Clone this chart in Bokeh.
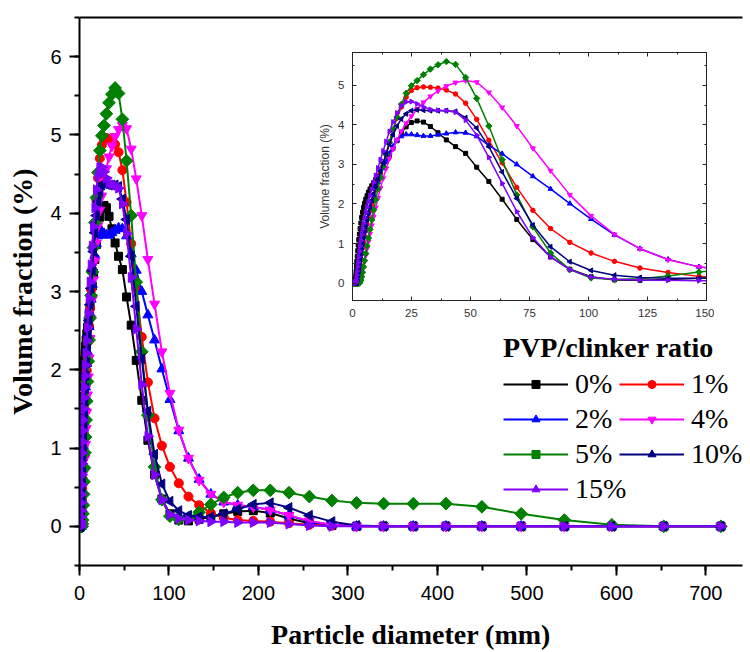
import numpy as np
from bokeh.plotting import figure
from bokeh.models import (Range1d, LinearAxis, SingleIntervalTicker, FixedTicker, Legend,
                          LegendItem, CustomJSTickFormatter)
from bokeh.layouts import column
from bokeh.embed import file_html
from bokeh.resources import INLINE

# particle diameter channels
diam = [0.375, 0.412, 0.452, 0.496, 0.545, 0.598, 0.657, 0.721, 0.791, 0.868,
        0.953, 1.047, 1.149, 1.261, 1.385, 1.520, 1.668, 1.832, 2.011, 2.207,
        2.423, 2.660, 2.920, 3.205, 3.519, 3.863, 4.240, 4.655, 5.110, 5.610,
        6.158, 6.760, 7.421, 8.147, 8.943, 9.818, 10.78, 11.83, 12.99, 14.26,
        15.65, 17.18, 18.86, 20.70, 22.73, 24.95, 27.38, 30.07, 33.00, 36.24,
        39.77, 43.66, 47.93, 52.62, 57.77, 63.41, 69.61, 76.42, 83.90, 92.09,
        101.1, 111.0, 121.8, 133.7, 146.8, 161.2, 176.8, 194.2, 213.2, 234.1,
        256.9, 282.1, 309.6, 339.9, 373.1, 409.6, 449.7, 493.6, 541.9, 594.9,
        653.0, 716.8]

pvp_0 = [0, 0, 0, 0, 0, 0, 0, 0, 0, 0,
         0, 0, 0.03, 0.10, 0.19, 0.30, 0.42, 0.55, 0.68, 0.82,
         0.96, 1.10, 1.24, 1.38, 1.52, 1.66, 1.79, 1.91, 2.02, 2.12,
         2.21, 2.30, 2.38, 2.46, 2.54, 2.62, 2.71, 2.81, 2.93, 3.07,
         3.23, 3.41, 3.60, 3.79, 3.95, 4.06, 4.10, 4.07, 3.96, 3.80,
         3.62, 3.45, 3.28, 2.93, 2.57, 2.12, 1.61, 1.10, 0.66, 0.35,
         0.16, 0.08, 0.07, 0.09, 0.12, 0.16, 0.19, 0.20, 0.17, 0.10,
         0.04, 0.01, 0, 0, 0, 0, 0, 0, 0, 0,
         0, 0]

pvp_1 = [0, 0, 0, 0, 0, 0, 0, 0, 0, 0,
         0, 0, 0, 0, 0, 0, 0, 0, 0.03, 0.08,
         0.15, 0.25, 0.36, 0.48, 0.61, 0.75, 0.89, 1.03, 1.18, 1.33,
         1.49, 1.65, 1.82, 1.99, 2.17, 2.36, 2.56, 2.78, 3.02, 3.28,
         3.57, 3.87, 4.17, 4.45, 4.70, 4.87, 4.94, 4.96, 4.95, 4.93,
         4.88, 4.78, 4.55, 4.14, 3.61, 3.04, 2.42, 1.84, 1.38, 1.03,
         0.76, 0.55, 0.38, 0.27, 0.17, 0.11, 0.08, 0.07, 0.06, 0.04,
         0.02, 0.01, 0, 0, 0, 0, 0, 0, 0, 0,
         0, 0]

pvp_2 = [0, 0, 0, 0, 0, 0, 0, 0, 0, 0,
         0, 0, 0, 0, 0, 0, 0, 0.03, 0.08, 0.15,
         0.24, 0.35, 0.47, 0.60, 0.74, 0.88, 1.03, 1.18, 1.33, 1.48,
         1.63, 1.78, 1.93, 2.08, 2.23, 2.39, 2.55, 2.72, 2.90, 3.09,
         3.28, 3.46, 3.61, 3.71, 3.76, 3.76, 3.74, 3.72, 3.72, 3.75,
         3.78, 3.81, 3.80, 3.71, 3.48, 3.27, 3.00, 2.70, 2.38, 2.01,
         1.62, 1.22, 0.87, 0.60, 0.41, 0.31, 0.27, 0.25, 0.21, 0.14,
         0.06, 0.02, 0, 0, 0, 0, 0, 0, 0, 0,
         0, 0]

pvp_4 = [0, 0, 0, 0, 0, 0, 0, 0, 0, 0,
         0, 0, 0, 0, 0, 0, 0, 0, 0, 0,
         0, 0, 0, 0.02, 0.07, 0.15, 0.26, 0.39, 0.54, 0.70,
         0.87, 1.05, 1.25, 1.46, 1.68, 1.91, 2.15, 2.40, 2.65, 2.90,
         3.15, 3.39, 3.62, 3.84, 4.04, 4.22, 4.40, 4.57, 4.72, 4.86,
         4.98, 5.07, 5.12, 5.08, 4.82, 4.44, 3.97, 3.41, 2.84, 2.23,
         1.70, 1.23, 0.87, 0.59, 0.41, 0.31, 0.27, 0.25, 0.21, 0.14,
         0.07, 0.02, 0, 0, 0, 0, 0, 0, 0, 0,
         0, 0]

pvp_5 = [0, 0, 0, 0, 0, 0, 0, 0, 0, 0,
         0, 0, 0, 0, 0, 0, 0, 0, 0, 0,
         0, 0, 0, 0.03, 0.08, 0.16, 0.27, 0.41, 0.57, 0.75,
         0.94, 1.14, 1.36, 1.60, 1.85, 2.11, 2.38, 2.66, 2.95, 3.25,
         3.56, 3.88, 4.20, 4.52, 4.80, 4.99, 5.12, 5.27, 5.41, 5.52,
         5.60, 5.53, 5.20, 4.67, 3.97, 3.12, 2.23, 1.42, 0.76, 0.34,
         0.13, 0.09, 0.11, 0.18, 0.28, 0.37, 0.43, 0.46, 0.46, 0.43,
         0.38, 0.33, 0.30, 0.29, 0.29, 0.29, 0.25, 0.16, 0.08, 0.02,
         0, 0]

pvp_10 = [0, 0, 0, 0, 0, 0, 0, 0, 0, 0,
          0, 0, 0, 0, 0, 0, 0, 0.02, 0.06, 0.12,
          0.20, 0.30, 0.42, 0.55, 0.69, 0.84, 0.99, 1.14, 1.29, 1.44,
          1.60, 1.76, 1.92, 2.09, 2.26, 2.44, 2.63, 2.83, 3.04, 3.27,
          3.51, 3.75, 3.97, 4.15, 4.28, 4.36, 4.38, 4.37, 4.36, 4.36,
          4.36, 4.34, 4.18, 3.92, 3.45, 2.81, 2.14, 1.47, 0.92, 0.54,
          0.32, 0.20, 0.14, 0.12, 0.12, 0.16, 0.22, 0.28, 0.30, 0.24,
          0.14, 0.06, 0.01, 0, 0, 0, 0, 0, 0, 0,
          0, 0]

pvp_15 = [0, 0, 0, 0, 0, 0, 0, 0, 0, 0,
          0, 0, 0, 0, 0.02, 0.06, 0.12, 0.20, 0.30, 0.41,
          0.53, 0.66, 0.80, 0.94, 1.08, 1.22, 1.36, 1.50, 1.64, 1.78,
          1.92, 2.06, 2.21, 2.37, 2.54, 2.72, 2.91, 3.12, 3.34, 3.58,
          3.83, 4.07, 4.30, 4.48, 4.58, 4.59, 4.53, 4.45, 4.39, 4.37,
          4.36, 4.32, 4.12, 3.74, 3.18, 2.52, 1.81, 1.15, 0.66, 0.34,
          0.15, 0.10, 0.08, 0.07, 0.06, 0.06, 0.05, 0.05, 0.05, 0.03,
          0.01, 0, 0, 0, 0, 0, 0, 0, 0, 0,
          0, 0]

labels = ["0%", "1%", "2%", "4%", "5%", "10%", "15%"]
series = [pvp_0, pvp_1, pvp_2, pvp_4, pvp_5, pvp_10, pvp_15]
colors = ["#000000", "#FF0000", "#0000FF", "#FF00FF", "#008000", "#000080", "#8000FF"]
markers = ["square", "circle", "triangle", "inverted_triangle", "square", "triangle", "triangle"]
angles = [0, 0, 0, 0, np.pi / 4, np.pi / 2, -np.pi / 2]
msize_main = [8, 9, 10, 10, 9, 10, 10]
msize_inset = [4, 4.5, 5, 5, 4.5, 5, 5]

SERIF = "Liberation Serif"
SANS = "Liberation Sans"

# ---------------- main plot ----------------
p = figure(width=750, height=652, x_range=Range1d(0, 741), y_range=Range1d(-0.5, 6.5),
           output_backend="svg", toolbar_location=None,
           min_border_left=79, min_border_right=0, min_border_top=17, min_border_bottom=87,
           x_axis_label="Particle diameter (mm)", y_axis_label="Volume fraction (%)")
p.outline_line_color = None
p.xgrid.visible = False
p.ygrid.visible = False
p.background_fill_color = "white"
p.border_fill_color = "white"

bx = p.below[0]
ly = p.left[0]
bx.ticker = SingleIntervalTicker(interval=100, num_minor_ticks=2)
ly.ticker = SingleIntervalTicker(interval=1, num_minor_ticks=2)
for ax in (bx, ly):
    ax.axis_line_width = 2
    ax.axis_line_color = "black"
    ax.major_tick_line_width = 2
    ax.minor_tick_line_width = 2
    ax.major_tick_out = 10
    ax.major_tick_in = 0
    ax.minor_tick_out = 5
    ax.minor_tick_in = 0
    ax.major_label_text_font = SANS
    ax.major_label_text_font_size = "20px"
    ax.major_label_text_color = "black"
    ax.axis_label_text_font = SERIF
    ax.axis_label_text_font_size = "28px"
    ax.axis_label_text_font_style = "bold"
    ax.axis_label_text_color = "black"
bx.major_label_standoff = 10
ly.major_label_standoff = 8
bx.axis_label_standoff = 16
ly.axis_label_standoff = 9

top = LinearAxis(ticker=FixedTicker(ticks=[]), axis_line_width=2, axis_line_color="black",
                 major_tick_out=0, major_tick_in=0, minor_tick_out=0, minor_tick_in=0)
p.add_layout(top, "above")

items = {}
for lab, ys, c, m, a, s in zip(labels, series, colors, markers, angles, msize_main):
    r1 = p.line(diam, ys, line_color=c, line_width=2)
    r2 = p.scatter(diam, ys, marker=m, size=s, angle=a, fill_color=c, line_color=c)
    items[lab] = [r1, r2]

common = dict(label_text_font=SERIF, label_text_font_size="28px", label_text_color="black",
              glyph_width=65, glyph_height=20, label_height=20, label_standoff=7,
              spacing=3, padding=0, margin=0, border_line_color=None,
              background_fill_alpha=0)

leg_a = Legend(items=[LegendItem(label=l, renderers=items[l]) for l in ["0%", "2%", "5%", "15%"]],
               location=(424, 60), title="PVP/clinker ratio",
               title_text_font=SERIF, title_text_font_style="bold", title_text_font_size="28px",
               title_text_color="black", title_standoff=4, **common)
leg_b = Legend(items=[LegendItem(label=l, renderers=items[l]) for l in ["1%", "4%", "10%"]],
               location=(540, 95), **common)
p.add_layout(leg_a)
p.add_layout(leg_b)

# ---------------- inset ----------------
# (the column aligns the inset's left border with the main plot's: 79 px)
q = figure(width=441, height=280, x_range=Range1d(0, 150), y_range=Range1d(-0.44, 5.83),
           output_backend="svg", toolbar_location=None,
           min_border_left=79, min_border_right=8, min_border_top=6, min_border_bottom=26,
           y_axis_label="Volume fraction (%)")
q.styles = {"position": "absolute", "left": "273px", "top": "46px"}
q.background_fill_alpha = 0
q.border_fill_alpha = 0
q.outline_line_color = None
q.xgrid.visible = False
q.ygrid.visible = False

qb = q.below[0]
ql = q.left[0]
qb.ticker = SingleIntervalTicker(interval=25, num_minor_ticks=2)
ql.ticker = SingleIntervalTicker(interval=1, num_minor_ticks=2)
blank = CustomJSTickFormatter(code="return '';")
q_top = LinearAxis(ticker=SingleIntervalTicker(interval=25, num_minor_ticks=2),
                   formatter=blank, major_label_standoff=0)
q_right = LinearAxis(ticker=SingleIntervalTicker(interval=1, num_minor_ticks=2),
                     formatter=blank, major_label_standoff=0)
q.add_layout(q_top, "above")
q.add_layout(q_right, "right")
for ax in (qb, ql, q_top, q_right):
    ax.axis_line_width = 1
    ax.axis_line_color = "#222222"
    ax.major_tick_line_color = "#222222"
    ax.minor_tick_line_color = "#222222"
    ax.major_tick_in = 4
    ax.major_tick_out = 0
    ax.minor_tick_in = 2
    ax.minor_tick_out = 0
for ax in (qb, ql):
    ax.major_label_text_font = SANS
    ax.major_label_text_font_size = "11.5px"
    ax.major_label_text_color = "#333333"
    ax.major_label_standoff = 8
ql.axis_label_text_font = SANS
ql.axis_label_text_font_size = "12px"
ql.axis_label_text_font_style = "normal"
ql.axis_label_text_color = "#333333"
ql.axis_label_standoff = 3

for ys, c, m, a, s in zip(series, colors, markers, angles, msize_inset):
    q.line(diam, ys, line_color=c, line_width=1.5)
    q.scatter(diam, ys, marker=m, size=s, angle=a, fill_color=c, line_color=c)

layout = column(p, q)
open("out.html", "w").write(file_html(layout, INLINE))
